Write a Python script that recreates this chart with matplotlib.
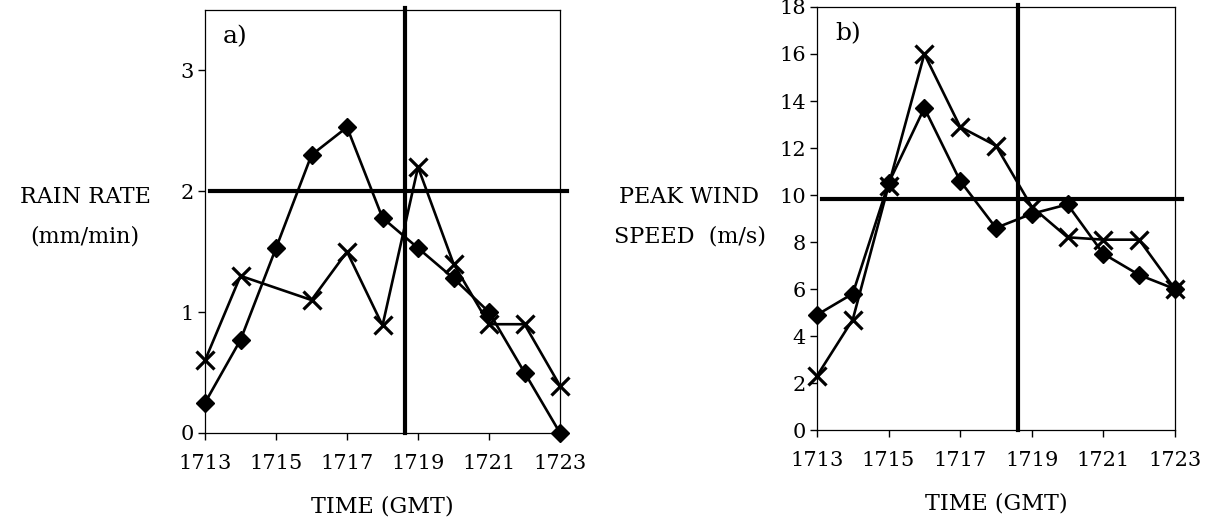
import matplotlib
matplotlib.use("Agg")
import matplotlib.pyplot as plt

plt.rcParams["font.family"] = ["DejaVu Serif"]

# rain rate (mm/min)
rain_t_diamond = [1713, 1714, 1715, 1716, 1717, 1718, 1719, 1720, 1721, 1722, 1723]
rain_diamond = [0.25, 0.77, 1.53, 2.30, 2.53, 1.78, 1.53, 1.28, 1.00, 0.50, 0.0]
rain_t_cross = [1713, 1714, 1716, 1717, 1718, 1719, 1720, 1721, 1722, 1723]
rain_cross = [0.60, 1.30, 1.10, 1.50, 0.89, 2.20, 1.40, 0.90, 0.90, 0.39]

# peak wind speed (m/s)
wind_t = [1713, 1714, 1715, 1716, 1717, 1718, 1719, 1720, 1721, 1722, 1723]
wind_diamond = [4.9, 5.8, 10.5, 13.7, 10.6, 8.6, 9.2, 9.6, 7.5, 6.6, 6.0]
wind_cross = [2.3, 4.7, 10.4, 16.0, 12.9, 12.1, 9.5, 8.2, 8.1, 8.1, 6.0]

xticks = [1713, 1715, 1717, 1719, 1721, 1723]
rain_yticks = [0, 1, 2, 3]
wind_yticks = [0, 2, 4, 6, 8, 10, 12, 14, 16, 18]

rain_threshold = 2.0
wind_threshold = 9.85
event_time = 1718.62

fig = plt.figure(figsize=(12.13, 5.22), dpi=100)
ax_a = fig.add_axes([0.169, 0.1705, 0.2927, 0.8104])
ax_b = fig.add_axes([0.6735, 0.1762, 0.2951, 0.8104])


def draw_panel(ax, t_d, y_d, t_x, y_x, thresh, ylim, yticks, tag):
    ax.plot(t_d, y_d, color="black", lw=1.9, marker="D", ms=9.5,
            markerfacecolor="black", markeredgecolor="black", zorder=4,
            clip_on=False)
    ax.plot(t_x, y_x, color="black", lw=1.9, marker="x", ms=12.5, mew=2.3,
            zorder=4, clip_on=False)
    ax.axhline(thresh, xmin=0.015, xmax=1.02, color="black", lw=3, clip_on=False,
               zorder=3)
    ax.axvline(event_time, ymin=0, ymax=1.005, color="black", lw=3, clip_on=False,
               zorder=3)
    ax.set_xlim(1713, 1723)
    ax.set_ylim(*ylim)
    ax.set_xticks(xticks)
    ax.set_yticks(yticks)
    ax.tick_params(direction="out", length=5, width=1, labelsize=15)
    ax.tick_params(axis="x", pad=10)
    ax.tick_params(axis="y", pad=3)
    for s in ax.spines.values():
        s.set_linewidth(0.9)
    ax.text(0.05, 0.965, tag, transform=ax.transAxes, fontsize=18,
            ha="left", va="top")
    ax.set_xlabel("TIME (GMT)", fontsize=16, labelpad=16)


draw_panel(ax_a, rain_t_diamond, rain_diamond, rain_t_cross, rain_cross,
           rain_threshold, (0, 3.5), rain_yticks, "a)")
draw_panel(ax_b, wind_t, wind_diamond, wind_t, wind_cross,
           wind_threshold, (0, 18), wind_yticks, "b)")

fig.text(85 / 1213, 1 - 197 / 522, "RAIN RATE", fontsize=16, ha="center", va="center")
fig.text(85 / 1213, 1 - 236 / 522, "(mm/min)", fontsize=16, ha="center", va="center")
fig.text(689 / 1213, 1 - 197 / 522, "PEAK WIND", fontsize=16, ha="center", va="center")
fig.text(690 / 1213, 1 - 236 / 522, "SPEED  (m/s)", fontsize=16, ha="center", va="center")

fig.savefig("out.png", dpi=100)
